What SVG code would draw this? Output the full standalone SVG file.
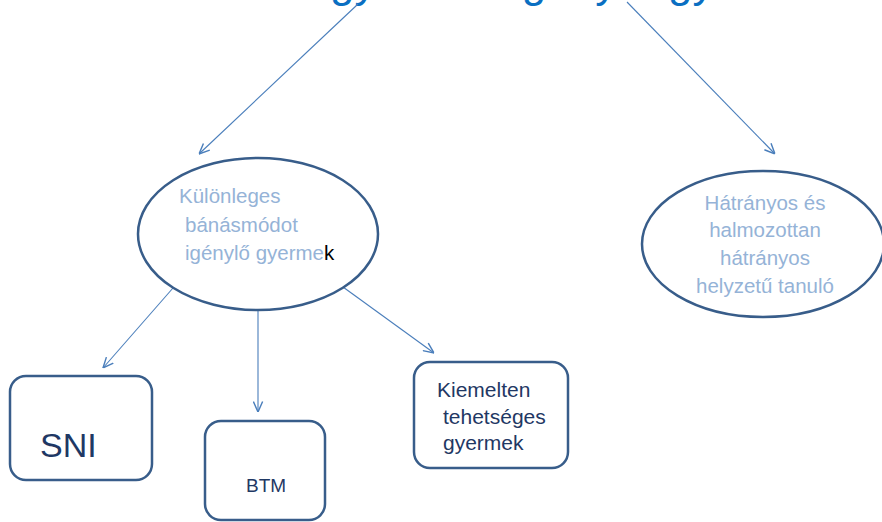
<svg xmlns="http://www.w3.org/2000/svg" width="882" height="522" viewBox="0 0 882 522">
<style>
.title{font-family:"Liberation Sans",Arial,sans-serif;font-size:44px;fill:#0A6FC2}
.ell{fill:#fff;stroke:#385D8A;stroke-width:2.5}
.box{fill:#fff;stroke:#385D8A;stroke-width:2.5}
.lt{font-family:"Liberation Sans",Arial,sans-serif;font-size:20.5px;fill:#95B3D7}
.dk{font-family:"Liberation Sans",Arial,sans-serif;fill:#1F3864}
.con{stroke:#4A7EBB;stroke-width:1.1;fill:none;marker-end:url(#ah)}
</style>
<defs>
<marker id="ah" viewBox="0 0 10 10" refX="10" refY="5" markerWidth="11" markerHeight="11" markerUnits="userSpaceOnUse" orient="auto">
<path d="M0.5,0.8 L10,5 L0.5,9.2" fill="none" stroke="#4A7EBB" stroke-width="1.3"/>
</marker>
</defs>
<rect width="882" height="522" fill="#fff"/>
<g id="title">
<text class="title" y="-3"><tspan x="149">Kiemelt </tspan><tspan x="308">figyelmet </tspan><tspan x="512">igénylő </tspan><tspan x="668">gyermek</tspan></text>
</g>
<g id="connectors">
<line class="con" x1="358" y1="4" x2="199" y2="154"/>
<line class="con" x1="627" y1="2" x2="775" y2="154"/>
<line class="con" x1="173" y1="288" x2="103" y2="368"/>
<line class="con" x1="258" y1="310" x2="258" y2="412"/>
<line class="con" x1="343" y1="287" x2="434" y2="353"/>
</g>
<g id="node-kulonleges">
<ellipse class="ell" cx="258" cy="234" rx="120" ry="76"/>
<text class="lt" x="179" y="203">Különleges</text>
<text class="lt" x="185" y="232">bánásmódot</text>
<text class="lt" x="185" y="260">igénylő gyerme<tspan fill="#000">k</tspan></text>
</g>
<g id="node-hatranyos">
<ellipse class="ell" cx="763" cy="244" rx="121" ry="73"/>
<text class="lt" text-anchor="middle" x="765" y="210">Hátrányos és</text>
<text class="lt" text-anchor="middle" x="765" y="237">halmozottan</text>
<text class="lt" text-anchor="middle" x="765" y="265">hátrányos</text>
<text class="lt" text-anchor="middle" x="765" y="293">helyzetű tanuló</text>
</g>
<g id="node-sni">
<rect class="box" x="10" y="376" width="142" height="104" rx="16"/>
<text class="dk" x="40" y="457" font-size="34">SNI</text>
</g>
<g id="node-btm">
<rect class="box" x="205" y="421" width="120" height="99" rx="16"/>
<text class="dk" x="246" y="492" font-size="19">BTM</text>
</g>
<g id="node-kiemelten">
<rect class="box" x="414" y="362" width="154" height="106" rx="16"/>
<text class="dk" x="437" y="397" font-size="21">Kiemelten</text>
<text class="dk" x="443" y="424" font-size="21">tehetséges</text>
<text class="dk" x="443" y="450" font-size="21">gyermek</text>
</g>
</svg>
